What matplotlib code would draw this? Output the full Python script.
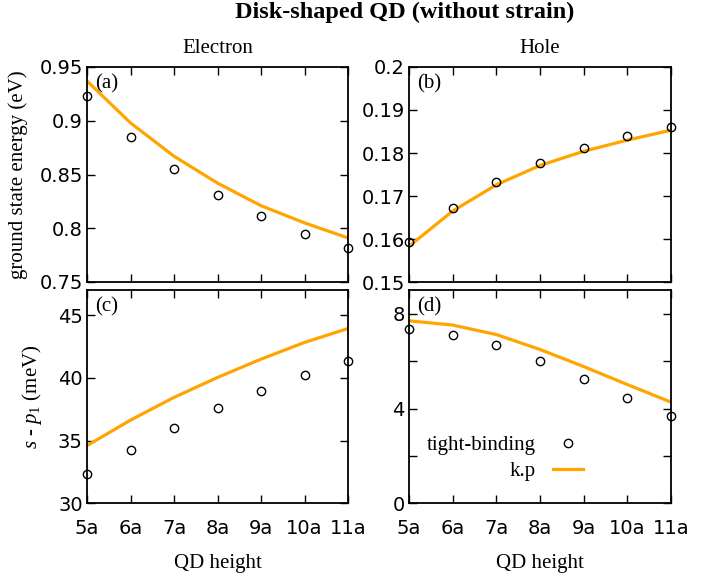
import matplotlib.pyplot as plt
import numpy as np

plt.rcParams['mathtext.fontset'] = 'custom'
plt.rcParams['mathtext.rm'] = 'Liberation Serif'
plt.rcParams['mathtext.it'] = 'Liberation Serif:italic'
plt.rcParams['mathtext.default'] = 'it'

# data ------------------------------------------------------------------
heights = [5, 6, 7, 8, 9, 10, 11]
height_labels = ['5a', '6a', '7a', '8a', '9a', '10a', '11a']

elec_tb = [0.923, 0.885, 0.855, 0.831, 0.811, 0.795, 0.782]
elec_kp = [0.937, 0.898, 0.867, 0.842, 0.821, 0.805, 0.791]

hole_tb = [0.1592, 0.1673, 0.1733, 0.1777, 0.1812, 0.1839, 0.1860]
hole_kp = [0.1583, 0.1665, 0.1726, 0.1771, 0.1804, 0.1830, 0.1853]

elec_sp_tb = [32.3, 34.24, 35.97, 37.56, 38.94, 40.21, 41.33]
elec_sp_kp = [34.6, 36.63, 38.44, 40.03, 41.49, 42.82, 43.93]

hole_sp_tb = [7.36, 7.09, 6.68, 5.99, 5.25, 4.46, 3.67]
hole_sp_kp = [7.70, 7.52, 7.12, 6.49, 5.77, 5.01, 4.27]

SERIF = 'Liberation Serif'
TICKFONT = 'DejaVu Sans'
ORANGE = '#ffa500'

W, H = 726, 585
fig = plt.figure(figsize=(W/100, H/100), dpi=100)

def box(l, r, t, b):
	return [l/W, 1 - b/H, (r - l)/W, (b - t)/H]

ax_a = fig.add_axes(box(87, 348, 67, 282))
ax_b = fig.add_axes(box(409, 671, 67, 282))
ax_c = fig.add_axes(box(87, 348, 290, 503.3))
ax_d = fig.add_axes(box(409, 671, 290, 503.3))

panels = [
	(ax_a, elec_tb, elec_kp, '(a)', (0.75, 0.95), np.arange(0.75, 0.951, 0.05)),
	(ax_b, hole_tb, hole_kp, '(b)', (0.15, 0.2), np.arange(0.15, 0.2001, 0.01)),
	(ax_c, elec_sp_tb, elec_sp_kp, '(c)', (30, 47), [30, 35, 40, 45]),
	(ax_d, hole_sp_tb, hole_sp_kp, '(d)', (0, 9), [0, 4, 8]),
]

for ax, tb, kp, tag, ylim, yt in panels:
	ax.plot(heights, kp, color=ORANGE, lw=2.3, label='k.p', zorder=2)
	ax.plot(heights, tb, ls='none', marker='o', ms=6, mfc='none', mec='black',
		mew=1.0, clip_on=False, label='tight-binding', zorder=3)
	ax.set_xlim(5, 11)
	ax.set_ylim(*ylim)
	ax.set_xticks(heights)
	ax.set_yticks(yt)
	ax.tick_params(which='both', direction='in', top=True, right=True,
		length=6, width=1.0, labelsize=14)
	ax.tick_params(axis='x', pad=11)
	ax.tick_params(axis='y', pad=3)
	for sp in ax.spines.values():
		sp.set_linewidth(1.3)
	ax.text(0.03, 0.921, tag, transform=ax.transAxes, ha='left', va='center',
		fontsize=15, family=SERIF)
	for lab in ax.get_xticklabels() + ax.get_yticklabels():
		lab.set_family(TICKFONT)

ax_a.set_yticklabels(['0.75', '0.8', '0.85', '0.9', '0.95'])
ax_b.set_yticklabels(['0.15', '0.16', '0.17', '0.18', '0.19', '0.2'])
ax_d.set_yticks([2, 6], minor=True)

for ax in (ax_a, ax_b):
	ax.set_xticklabels([])
for ax in (ax_c, ax_d):
	ax.set_xticklabels(height_labels, family=TICKFONT)
	ax.set_xlabel('QD height', fontsize=15, family=SERIF, labelpad=12)

ax_a.set_title('Electron', fontsize=15, family=SERIF, pad=10)
ax_b.set_title('Hole', fontsize=15, family=SERIF, pad=10)

ax_a.set_ylabel('ground state energy (eV)', fontsize=15, family=SERIF)
ax_a.yaxis.set_label_coords(-0.226, 0.5)
ax_c.set_ylabel(r'$s$ - $p_1$ (meV)', fontsize=15, family=SERIF)
ax_c.yaxis.set_label_coords(-0.165, 0.5)

fig.text(0.557, 0.979, 'Disk-shaped QD (without strain)', ha='center', va='center',
	fontsize=17.5, fontweight='bold', family=SERIF)

handles, labels = ax_d.get_legend_handles_labels()
leg = ax_d.legend(handles[::-1], labels[::-1], loc='center', bbox_to_anchor=(0.366, 0.211),
	frameon=False, markerfirst=False, numpoints=1, handlelength=1.45,
	handletextpad=0.8, labelspacing=0.3, prop={'family': SERIF, 'size': 15})

fig.savefig('out.png', dpi=100)
